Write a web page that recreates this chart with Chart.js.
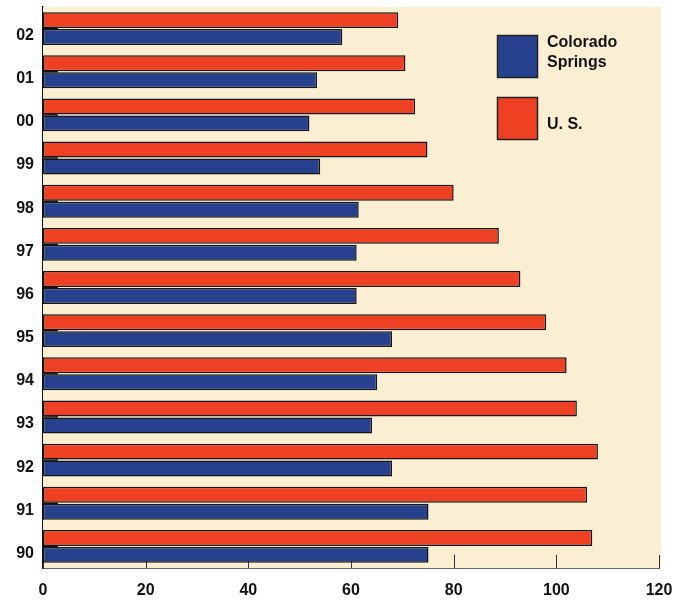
<!DOCTYPE html>
<html>
<head>
<meta charset="utf-8">
<script src="https://cdn.jsdelivr.net/npm/chart.js@4"></script>
<style>
  body { margin: 0; background: #fff; }
  #wrap { width: 686px; height: 605px; position: relative; }
</style>
</head>
<body>
<div id="wrap"><canvas id="barChart"></canvas></div>
<script>
// years, top to bottom
const years = ['02', '01', '00', '99', '98', '97', '96', '95', '94', '93', '92', '91', '90'];
const usValues = [69.2, 70.6, 72.5, 74.9, 80, 88.8, 93, 98, 102, 104, 108.1, 106, 107];
const coloradoValues = [58.3, 53.4, 51.9, 54, 61.5, 61.1, 61.1, 68, 65.1, 64.1, 68, 75.1, 75.1];
const xTicks = [0, 20, 40, 60, 80, 100, 120];

const FONT = "'Liberation Sans', Arial, Helvetica, sans-serif";

// cream plot background + inner tick marks + legend
const decorPlugin = {
  id: 'decor',
  beforeDatasetsDraw(chart) {
    const { ctx, chartArea: a, scales } = chart;
    ctx.save();
    ctx.fillStyle = '#FBEFD3';
    ctx.fillRect(a.left, a.top, a.right - a.left + 2, a.bottom - a.top);
    // x ticks drawn upward inside the plot
    ctx.strokeStyle = '#333';
    ctx.lineWidth = 1;
    xTicks.forEach(v => {
      const px = Math.round(scales.x.getPixelForValue(v)) + 0.5;
      ctx.beginPath();
      ctx.moveTo(px, a.bottom);
      ctx.lineTo(px, a.bottom - 13);
      ctx.stroke();
    });
    ctx.restore();
  },
  afterDatasetsDraw(chart) {
    const { ctx, chartArea: a, scales } = chart;
    ctx.save();
    ctx.strokeStyle = '#111';
    ctx.lineWidth = 1.5;
    years.forEach((y, i) => {
      const py = scales.y.getPixelForValue(i);
      ctx.beginPath();
      ctx.moveTo(a.left, py);
      ctx.lineTo(a.left + 15, py);
      ctx.stroke();
    });
    ctx.restore();
  },
  afterDraw(chart) {
    const { ctx } = chart;
    const entries = chart.data.datasets.slice().reverse();
    ctx.save();
    ctx.font = 'bold 16px ' + FONT;
    ctx.textBaseline = 'middle';
    entries.forEach((ds, i) => {
      const bx = 497, by = 35 + i * 62;
      ctx.fillStyle = ds.backgroundColor;
      ctx.fillRect(bx, by, 40, 42);
      ctx.strokeStyle = '#222';
      ctx.lineWidth = 1.5;
      ctx.strokeRect(bx + 0.5, by + 0.5, 40, 42);
      const lines = ds.label.indexOf('.') < 0 ? ds.label.split(' ') : [ds.label];
      ctx.fillStyle = '#111';
      lines.forEach((t, j) => {
        const ty = by + 28 - (lines.length - 1 - j) * 20;
        ctx.fillText(t, bx + 50, ty);
      });
    });
    ctx.restore();
  }
};

new Chart(document.getElementById('barChart'), {
  type: 'bar',
  data: {
    labels: years,
    datasets: [
      {
        label: 'U. S.',
        data: usValues,
        backgroundColor: '#EE4124',
        borderColor: '#151515',
        borderWidth: 1.5,
        borderSkipped: false,
        categoryPercentage: 0.786,
        barPercentage: 0.94
      },
      {
        label: 'Colorado Springs',
        data: coloradoValues,
        backgroundColor: '#27418E',
        borderColor: '#151515',
        borderWidth: 1.5,
        borderSkipped: false,
        categoryPercentage: 0.786,
        barPercentage: 0.94
      }
    ]
  },
  options: {
    indexAxis: 'y',
    responsive: true,
    maintainAspectRatio: false,
    animation: false,
    layout: { padding: { top: 7, right: 27, left: 0, bottom: 0 } },
    plugins: {
      legend: { display: false },
      tooltip: { enabled: false }
    },
    scales: {
      x: {
        min: 0,
        max: 120,
        afterFit(scale) {
          scale.height = 37;
          scale.paddingLeft = 0;
          scale.paddingRight = 0;
        },
        afterBuildTicks(scale) { scale.ticks = xTicks.map(v => ({ value: v })); },
        grid: { display: false, drawTicks: false },
        border: { display: true, color: '#666', width: 2 },
        ticks: {
          padding: 13,
          color: '#111',
          font: { family: FONT, size: 16, weight: 'bold' }
        }
      },
      y: {
        afterFit(scale) {
          scale.width = 43;
          scale.paddingTop = 0;
          scale.paddingBottom = 0;
        },
        grid: { display: false, drawTicks: false },
        border: { display: true, color: '#111', width: 1.5 },
        ticks: {
          padding: 9,
          labelOffset: 7,
          color: '#111',
          font: { family: FONT, size: 16, weight: 'bold' }
        }
      }
    }
  },
  plugins: [decorPlugin]
});
</script>
</body>
</html>
